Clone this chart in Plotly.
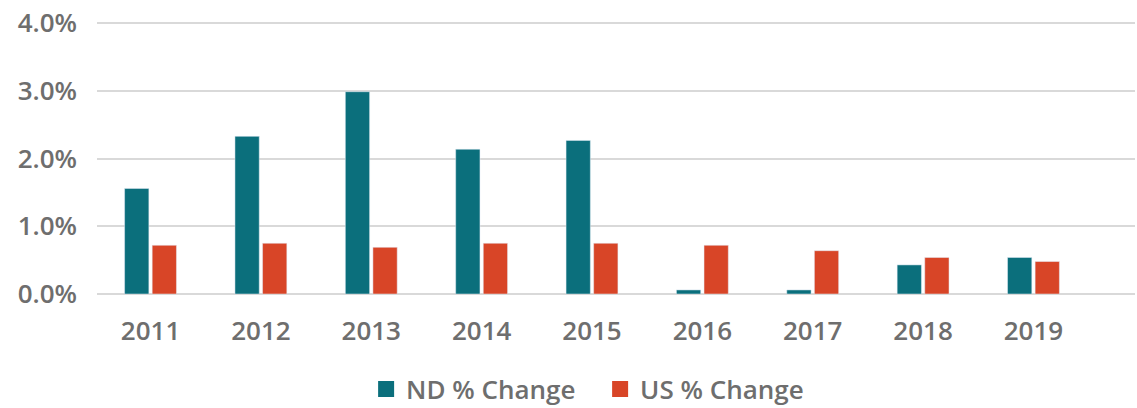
import plotly.graph_objects as go

years = ["2011", "2012", "2013", "2014", "2015", "2016", "2017", "2018", "2019"]
nd_change = [1.56, 2.33, 2.99, 2.14, 2.27, 0.06, 0.06, 0.43, 0.54]
us_change = [0.72, 0.75, 0.69, 0.75, 0.75, 0.72, 0.64, 0.54, 0.48]
y_ticks = [0, 1, 2, 3, 4]
y_tick_labels = ["0.0%", "1.0%", "2.0%", "3.0%", "4.0%"]

teal = "#0b6f7c"
orange = "#d84527"
text_col = "#6e6e6e"
font_fam = "Open Sans, Noto Sans, sans-serif"

fig = go.Figure()
fig.add_trace(go.Bar(x=years, y=nd_change, name="ND % Change", marker_color=teal,
                     showlegend=False))
fig.add_trace(go.Bar(x=years, y=us_change, name="US % Change", marker_color=orange,
                     showlegend=False))
# legend entries
fig.add_trace(go.Scatter(x=[None], y=[None], mode="markers", name="ND % Change",
                         marker=dict(symbol="square", size=16, color=teal)))
fig.add_trace(go.Scatter(x=[None], y=[None], mode="markers", name="US % Change",
                         marker=dict(symbol="square", size=16, color=orange)))

fig.update_layout(
    width=1137, height=408,
    margin=dict(l=97, r=2, t=20, b=114, autoexpand=False),
    paper_bgcolor="white", plot_bgcolor="white",
    barmode="group", bargap=0.5, bargroupgap=0.12,
    font=dict(family=font_fam, size=26, color=text_col, weight=600),
    legend=dict(orientation="h", x=0.322, xanchor="left", xref="container",
                y=1 - 389 / 408, yanchor="middle", yref="container",
                entrywidth=189, entrywidthmode="pixels",
                font=dict(size=26, color=text_col, weight=600), itemsizing="trace"),
    xaxis=dict(type="category", range=[-0.485, 8.92], showgrid=False, showline=False,
               zeroline=False, ticks="", ticklabelstandoff=19,
               tickfont=dict(size=26, color=text_col, weight=600)),
    yaxis=dict(range=[0, 4.05], tickvals=y_ticks, ticktext=y_tick_labels,
               showgrid=True, gridcolor="#d9d9d9", gridwidth=1.5, zeroline=True,
               zerolinecolor="#d9d9d9", zerolinewidth=1.5, showline=False, ticks="",
               ticklabelstandoff=19, tickfont=dict(size=26, color=text_col, weight=600)),
)

fig.write_html("out.html", config={"displayModeBar": False})

with open("out.html", "r", encoding="utf-8") as f:
    html = f.read()
html = html.replace("<body>", '<body style="margin:0;padding:0;overflow:hidden">', 1)
html = html.replace("<head>", "<head><style>html,body{margin:0;padding:0;}</style>", 1)
with open("out.html", "w", encoding="utf-8") as f:
    f.write(html)
